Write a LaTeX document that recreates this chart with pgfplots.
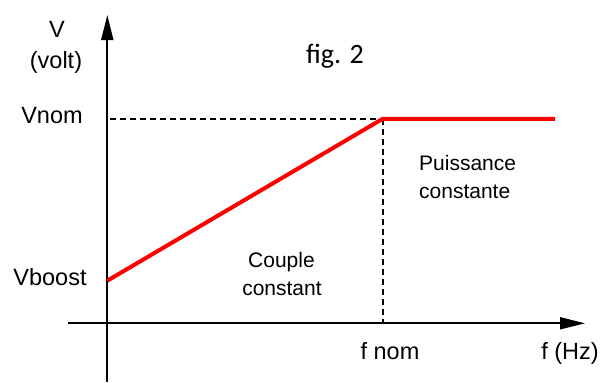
\documentclass[border=0pt]{standalone}
\usepackage{pgfplots}
\pgfplotsset{compat=1.18}
\usetikzlibrary{arrows.meta}
\usepackage{fontspec}
\setmainfont{Liberation Sans}
\newfontfamily\calibri{Carlito}
\begin{document}
\begin{tikzpicture}[x=1pt,y=1pt]
\begin{axis}[
  width=606pt, height=382pt, scale only axis,
  xmin=0, xmax=606, ymin=0, ymax=382, y dir=reverse,
  hide axis, clip=false,
]
% bounding frame (invisible)
\path (rel axis cs:0,0) rectangle (rel axis cs:1,1);
% axes
\draw[line width=1.8pt, -{Triangle[length=25pt,width=12pt]}] (axis cs:68,323.3) -- (axis cs:585,323.3);
\draw[line width=1.8pt, -{Triangle[length=25pt,width=12pt]}] (axis cs:107.3,382) -- (axis cs:107.3,15);
% dashed guides
\addplot[black, line width=2pt, dash pattern=on 6pt off 4pt] coordinates {(110,119.2) (382.7,119.2)};
\addplot[black, line width=2pt, dash pattern=on 6pt off 4pt] coordinates {(382.9,119.2) (382.9,323)};
% characteristic
\addplot[color={rgb,255:red,255;green,0;blue,0}, line width=4pt, line join=round] coordinates {(107.3,280.7) (382.7,118.8) (555,118.8)};
% labels
\node[anchor=base, font=\fontsize{23.5}{26}\selectfont] at (axis cs:57,37) {V};
\node[anchor=base, font=\fontsize{23.5}{26}\selectfont] at (axis cs:56,68) {(volt)};
\node[anchor=base, font=\fontsize{23.5}{26}\selectfont] at (axis cs:52,123) {Vnom};
\node[anchor=base, font=\fontsize{23.5}{26}\selectfont] at (axis cs:50,285.7) {Vboost};
\node[anchor=base, font=\calibri\fontsize{28}{30}\selectfont] at (axis cs:335,63) {fig. 2};
\node[anchor=base west, inner xsep=0pt, font=\fontsize{21}{24}\selectfont] at (axis cs:419,170) {Puissance};
\node[anchor=base west, inner xsep=0pt, font=\fontsize{21}{24}\selectfont] at (axis cs:419,198) {constante};
\node[anchor=base, font=\fontsize{21}{24}\selectfont] at (axis cs:281.5,267) {Couple};
\node[anchor=base, font=\fontsize{21}{24}\selectfont] at (axis cs:282,295) {constant};
\node[anchor=base, font=\fontsize{23.5}{26}\selectfont] at (axis cs:390,359) {f nom};
\node[anchor=base, font=\fontsize{23.5}{26}\selectfont] at (axis cs:570,359) {f (Hz)};
\end{axis}
\end{tikzpicture}
\end{document}
